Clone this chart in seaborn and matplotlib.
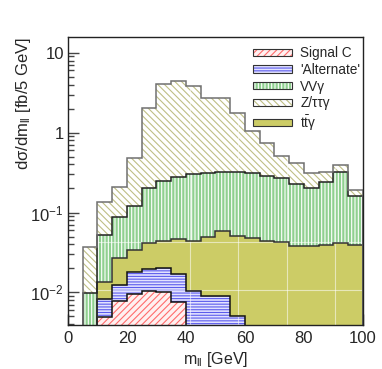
import numpy as np
import pandas as pd
import matplotlib
matplotlib.use("Agg")
import matplotlib.pyplot as plt
import seaborn as sns
from matplotlib.patches import Patch
from matplotlib.legend_handler import HandlerTuple
from matplotlib.ticker import FixedLocator, FixedFormatter, NullFormatter
from matplotlib.colors import to_hex

# ---------------- data (fb / 5 GeV per bin, stacked contributions) ----------------
bin_edges = list(range(0, 105, 5))
signal_c  = [0, 0, 0.0049, 0.0077, 0.0095, 0.0104, 0.0100, 0.0075, 0, 0,
             0, 0, 0, 0, 0, 0, 0, 0, 0, 0]
alternate = [0, 0, 0.0033, 0.0048, 0.0083, 0.0091, 0.0102, 0.0093, 0.0103, 0.0091,
             0.0091, 0.0051, 0, 0, 0, 0, 0, 0, 0, 0]
ttgamma   = [0, 0, 0.0053, 0.0144, 0.0164, 0.0219, 0.0232, 0.0297, 0.0337, 0.0409,
             0.0488, 0.0459, 0.0478, 0.0434, 0.0426, 0.0376, 0.0376, 0.0387, 0.0414, 0.0390]
vvgamma   = [0, 0.0098, 0.0392, 0.0621, 0.0868, 0.1606, 0.2076, 0.2305, 0.2580, 0.2650,
             0.2671, 0.2680, 0.2632, 0.2466, 0.2264, 0.1884, 0.1644, 0.2013, 0.2836, 0.1230]
ztautau   = [0, 0.0272, 0.0823, 0.118, 0.359, 1.818, 3.779, 4.153, 3.528, 2.375,
             2.365, 1.431, 0.739, 0.460, 0.241, 0.188, 0.109, 0.080, 0.070, 0.030]

TT = "$\\mathrm{t\\bar{t}}$γ"
labels_legend = ["Signal C", "'Alternate'", "VVγ", "Z/ττγ", TT]
# ---------------------------------------------------------------------------------

sns.set_style("ticks")
plt.rcParams["font.family"] = ["Liberation Sans", "DejaVu Sans"]
plt.rcParams["mathtext.fontset"] = "custom"
plt.rcParams["mathtext.rm"] = "Liberation Sans"
plt.rcParams["mathtext.it"] = "Liberation Sans:italic"
plt.rcParams["mathtext.default"] = "regular"
plt.rcParams["hatch.linewidth"] = 0.8

series = {
    "Signal C": signal_c,
    "'Alternate'": alternate,
    TT: ttgamma,
    "VVγ": vvgamma,
    "Z/ττγ": ztautau,
}
# (facecolor, hatch, hatchcolor, outline colour)
styles = {
    "Signal C":    ("#fff0f0", "/////", "#ff6c6c", "#111111"),
    "'Alternate'": ("#e2e2ff", "------", "#5c5cec", "#111111"),
    "VVγ":         ("#8fd08f", "|||||", "#ffffff", "#222222"),
    "Z/ττγ":       ("#ffffff", "\\\\\\\\\\", "#bfbf85", "#707070"),
    TT:            ("#cccc66", "", "#cccc66", "#333333"),
}

centers = [(a + b) / 2 for a, b in zip(bin_edges[:-1], bin_edges[1:])]
rows = []
for name, vals in series.items():
    for c, v in zip(centers, vals):
        rows.append({"m": c, "w": v, "process": name})
df = pd.DataFrame(rows)

# last hue level ends up at the bottom of the stack in seaborn
hue_order = ["Z/ττγ", "VVγ", TT, "'Alternate'", "Signal C"]
palette = {k: styles[k][0] for k in hue_order}

fig = plt.figure(figsize=(3.82, 3.69), dpi=100)
ax = fig.add_axes([0.178, 0.119, 0.772, 0.781])

sns.histplot(data=df, x="m", weights="w", hue="process", hue_order=hue_order,
             palette=palette, multiple="stack", bins=bin_edges, element="bars",
             alpha=1, linewidth=0, legend=False, ax=ax)

fc_map = {to_hex(styles[k][0]): k for k in hue_order}
for p in ax.patches:
    key = fc_map.get(to_hex(p.get_facecolor()))
    if key is None:
        continue
    fc, h, hc, oc = styles[key]
    p.set_facecolor(fc)
    if h:
        p.set_hatch(h)
        p.set_edgecolor(hc)
    else:
        p.set_edgecolor("none")
    p.set_linewidth(0)
    p.set_zorder(1)

ax.set_yscale("log")

# outlines of each stack level
stack_order = ["Signal C", "'Alternate'", TT, "VVγ", "Z/ττγ"]
cum = np.zeros(len(centers))
cums = {}
for k in stack_order:
    vals = np.array(series[k], dtype=float)
    cum = cum + vals
    cums[k] = np.where(vals > 0, cum, 0.0)

for k in stack_order:
    ax.stairs(cums[k], bin_edges, baseline=1e-6, color=styles[k][3], lw=1.1, zorder=4)

# faint white grid marks seen in the reference
for xv in [41.4, 57.6, 74.3, 90.7]:
    ax.axvline(xv, color="white", lw=0.8, alpha=0.55, zorder=2)
for yv in [0.0107, 0.0427]:
    ax.axhline(yv, color="white", lw=0.8, alpha=0.55, zorder=2)

ax.set_xlim(0, 100)
ax.set_ylim(0.0039, 15.8)

ax.xaxis.set_major_locator(FixedLocator([0, 20, 40, 60, 80, 100]))
ax.xaxis.set_minor_locator(FixedLocator(list(range(0, 101, 5))))
ax.yaxis.set_major_locator(FixedLocator([0.01, 0.1, 1, 10]))
ax.yaxis.set_major_formatter(FixedFormatter(["$10^{-2}$", "$10^{-1}$", "1", "10"]))
minors = [m * 10.0 ** e for e in range(-3, 2) for m in range(2, 10)]
ax.yaxis.set_minor_locator(FixedLocator(minors))
ax.yaxis.set_minor_formatter(NullFormatter())

ax.tick_params(axis="both", which="major", direction="in", length=8, width=1,
               color="#444444", labelsize=12, pad=3, top=False, right=False)
ax.tick_params(axis="both", which="minor", direction="in", length=4, width=1,
               color="#444444", top=False, right=False)
ax.tick_params(axis="x", which="major", pad=4)

for s in ax.spines.values():
    s.set_color("#222222")
    s.set_linewidth(1.0)
    s.set_visible(True)
    s.set_zorder(5)

ax.set_xlabel("m$_{ll}$ [GeV]", fontsize=11.5, labelpad=3)
ax.set_ylabel("dσ/dm$_{ll}$ [fb/5 GeV]", fontsize=12, loc="top")
ax.yaxis.set_label_coords(-0.12, 1.0)

handles = []
for k in labels_legend:
    fc, h, hc, oc = styles[k]
    inner = Patch(facecolor=fc, edgecolor=hc if h else "none", hatch=h if h else None, lw=0)
    border = Patch(facecolor="none", edgecolor="#333333", lw=0.8)
    handles.append((inner, border))

ax.legend(handles, labels_legend, handler_map={tuple: HandlerTuple(ndivide=1, pad=0)},
          loc="upper left", bbox_to_anchor=(0.626, 0.968), frameon=False,
          fontsize=9.8, handlelength=2.9, handleheight=0.45, labelspacing=0.2,
          handletextpad=0.6, borderaxespad=0, borderpad=0)

fig.savefig("out.png", dpi=100)
